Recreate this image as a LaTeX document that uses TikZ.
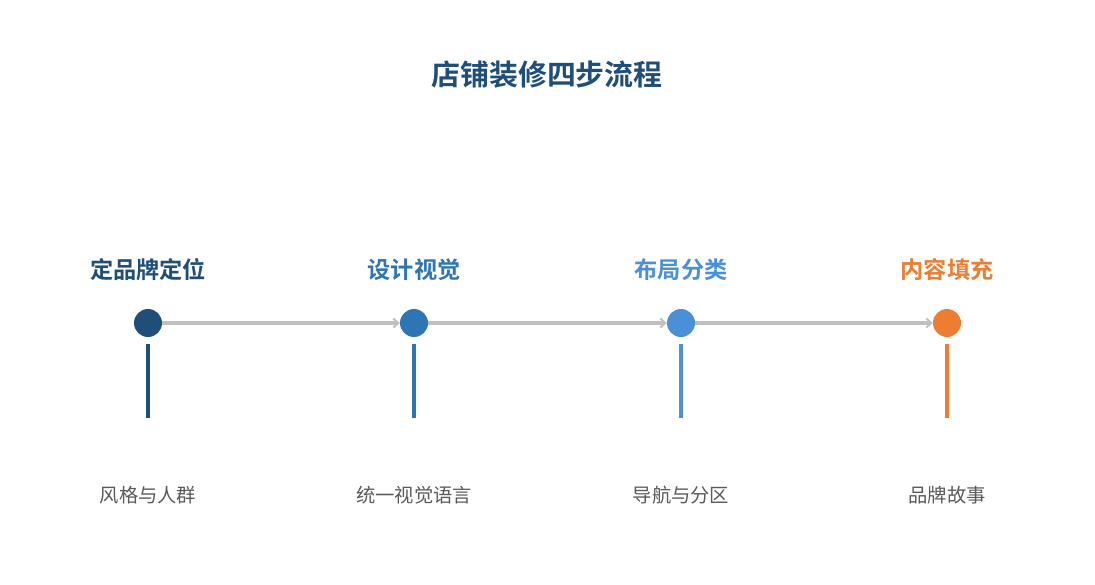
\documentclass[tikz,border=0pt]{standalone}
\usepackage{fontspec}
\newfontfamily\cjk{Noto Sans CJK SC}[BoldFont={Noto Sans CJK SC Bold}]
\usetikzlibrary{arrows.meta,positioning}
\definecolor{navy}{HTML}{1F4E79}
\definecolor{midblue}{HTML}{2E75B6}
\definecolor{skyblue}{HTML}{4A90D9}
\definecolor{amber}{HTML}{ED7D31}
\definecolor{linegray}{HTML}{C0C0C0}
\definecolor{textgray}{HTML}{595959}
\tikzset{
  >={Straight Barb[length=5pt,width=9pt,line width=2pt]},
  dot/.style  ={circle, fill=#1, minimum size=28pt, inner sep=0pt},
  head/.style ={font=\cjk\bfseries\fontsize{23.2}{27}\selectfont, text=#1},
  note/.style ={font=\cjk\fontsize{19.3}{23}\selectfont, text=textgray},
  flow/.style ={->, draw=linegray, line width=3.2pt},
  stem/.style ={draw=#1, line width=3.5pt}
}

\begin{document}
\begin{tikzpicture}[x=1pt,y=-1pt]
\useasboundingbox (0,0) rectangle (1095,585);
\node[font=\cjk\bfseries\fontsize{28.9}{33}\selectfont, text=navy] (title) at (547,75) {店铺装修四步流程};

\node[dot=navy]    (s1) at (148,323) {};
\node[dot=midblue] (s2) at (414,323) {};
\node[dot=skyblue] (s3) at (681,323) {};
\node[dot=amber]   (s4) at (947,323) {};

\node[head=navy]    (h1) at (148,270) {定品牌定位};
\node[head=midblue] (h2) at (414,270) {设计视觉};
\node[head=skyblue] (h3) at (681,270) {布局分类};
\node[head=amber]   (h4) at (947,270) {内容填充};

\node[note] (n1) at (148,495) {风格与人群};
\node[note] (n2) at (414,495) {统一视觉语言};
\node[note] (n3) at (681,495) {导航与分区};
\node[note] (n4) at (947,495) {品牌故事};

\draw[flow] (s1) -- (s2);
\draw[flow] (s2) -- (s3);
\draw[flow] (s3) -- (s4);

\foreach \i/\c in {1/navy,2/midblue,3/skyblue,4/amber}{
  \coordinate (a\i) at ([yshift=-7pt]s\i.south);
  \coordinate (b\i) at ([yshift=-81pt]s\i.south);
  \draw[stem=\c] (a\i) -- (b\i);
}
\end{tikzpicture}
\end{document}
